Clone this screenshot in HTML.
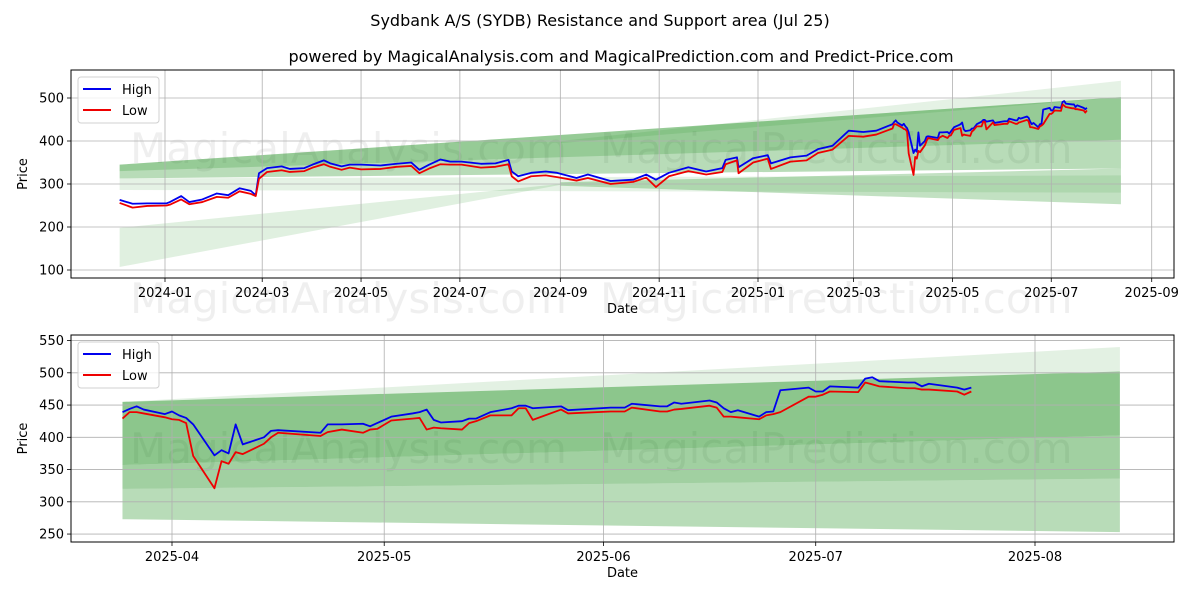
<!DOCTYPE html>
<html><head><meta charset="utf-8"><style>
body{margin:0;background:#fff;}
svg{display:block;font-family:"DejaVu Sans","Liberation Sans",sans-serif;}
</style></head><body>
<svg id="chart" width="1200" height="600" viewBox="0 0 1200 600" xmlns="http://www.w3.org/2000/svg">
<rect width="1200" height="600" fill="#fff"/>
<text x="600" y="26" text-anchor="middle" font-size="16">Sydbank A/S (SYDB) Resistance and Support area (Jul 25)</text>
<text x="621" y="62" text-anchor="middle" font-size="16">powered by MagicalAnalysis.com and MagicalPrediction.com and Predict-Price.com</text>
<g id="top"></g>
<g id="bot"></g>
</svg>
<script>
const dates=["2023-12-04","2023-12-12","2023-12-21","2024-01-02","2024-01-04","2024-01-11","2024-01-16","2024-01-24","2024-02-02","2024-02-09","2024-02-16","2024-02-23","2024-02-26","2024-02-28","2024-03-04","2024-03-13","2024-03-18","2024-03-27","2024-04-01","2024-04-08","2024-04-12","2024-04-19","2024-04-24","2024-05-01","2024-05-13","2024-05-23","2024-06-01","2024-06-06","2024-06-12","2024-06-19","2024-06-25","2024-07-02","2024-07-14","2024-07-23","2024-07-31","2024-08-02","2024-08-06","2024-08-14","2024-08-23","2024-08-30","2024-09-11","2024-09-18","2024-10-02","2024-10-16","2024-10-24","2024-10-30","2024-11-07","2024-11-19","2024-11-30","2024-12-10","2024-12-12","2024-12-19","2024-12-20","2024-12-29","2025-01-07","2025-01-09","2025-01-21","2025-01-31","2025-02-07","2025-02-16","2025-02-26","2025-03-07","2025-03-15",
"2025-03-25","2025-03-26","2025-03-27","2025-03-28","2025-03-31","2025-04-01","2025-04-02","2025-04-03","2025-04-04","2025-04-07","2025-04-08","2025-04-09","2025-04-10","2025-04-11","2025-04-14","2025-04-15","2025-04-16","2025-04-22","2025-04-23","2025-04-25","2025-04-28","2025-04-29","2025-04-30","2025-05-02","2025-05-05","2025-05-06","2025-05-07","2025-05-08","2025-05-09","2025-05-12","2025-05-13","2025-05-14","2025-05-16","2025-05-19","2025-05-20","2025-05-21","2025-05-22","2025-05-26","2025-05-27","2025-06-02","2025-06-04","2025-06-05","2025-06-09","2025-06-10","2025-06-11","2025-06-12","2025-06-16","2025-06-17","2025-06-18","2025-06-19","2025-06-20","2025-06-23","2025-06-24","2025-06-25","2025-06-26","2025-06-30","2025-07-01","2025-07-02","2025-07-03","2025-07-07","2025-07-08","2025-07-09","2025-07-10","2025-07-14","2025-07-15","2025-07-16","2025-07-17","2025-07-21","2025-07-22","2025-07-23"];
const highs=[263,254,255,255,258,272,258,264,278,274,290,284,274,325,337,341,335,337,345,355,348,341,345,345,343,347,350,333,345,357,352,352,347,348,356,329,318,326,329,326,314,322,307,310,322,310,326,339,329,337,356,362,339,360,367,348,362,366,381,389,424,421,424,
439,444,448,443,436,440,434,430,420,372,380,375,420,389,400,410,411,407,420,420,421,417,422,432,437,439,443,427,423,425,429,429,439,445,449,449,445,448,442,446,446,452,448,448,454,452,457,454,445,439,442,432,439,440,473,477,471,471,479,477,491,493,487,485,485,479,483,477,474,477];
const lows=[256,245,249,250,252,264,253,258,270,268,283,277,272,312,328,332,328,330,338,346,340,333,338,334,335,340,342,325,336,346,345,345,338,340,346,318,306,318,320,316,308,314,300,305,315,293,318,330,322,328,346,355,325,350,359,335,352,355,372,380,412,410,415,
429,439,439,437,431,428,427,422,371,321,363,359,377,374,390,400,407,402,408,412,407,412,413,426,429,430,412,415,414,412,422,425,434,434,445,445,427,443,437,440,440,446,440,440,443,444,449,446,432,432,431,428,434,436,439,463,463,466,471,470,485,482,479,476,476,474,474,471,466,471];

// band values: [startLow,startHigh,endLow,endHigh]
const topBandStart=["2023-12-04","2023-12-04","2023-12-04","2023-12-04","2024-09-01","2024-09-01"];
const topBandEnd=["2025-08-13","2025-08-13","2025-08-13","2024-09-01","2025-08-13","2025-08-13"];
const topBandVals=[[313,345,336,502],[330,345,403,502],[286,313,280,320],[107,198,298,300],[296,304,253,336],[395,400,502,540]];
const topBandAlpha=[0.28,0.18,0.1,0.12,0.24,0.1];
const botBandStart=["2025-03-25","2025-03-25","2025-03-25","2025-03-25"];
const botBandEnd=["2025-08-13","2025-08-13","2025-08-13","2025-08-13"];
const botBandVals=[[273,320,253,336],[320,357,336,403],[357,455,403,502],[455,455,502,540]];
const botBandAlpha=[0.28,0.37,0.45,0.11];

const topYTicks=[100,200,300,400,500];
const topXTicks=["2024-01","2024-03","2024-05","2024-07","2024-09","2024-11","2025-01","2025-03","2025-05","2025-07","2025-09"];
const botYTicks=[250,300,350,400,450,500,550];
const botXTicks=["2025-04","2025-05","2025-06","2025-07","2025-08"];

const NS="http://www.w3.org/2000/svg";
const day=s=>Date.parse(s.length===7?s+"-01":s)/86400000;
function mk(parent,tag,attrs){const e=document.createElementNS(NS,tag);for(const k in attrs)e.setAttribute(k,attrs[k]);parent.appendChild(e);return e;}

function panel(g,cfg){
  const {x0,x1,y0,y1,xRef,xRefPx,pxPerDay,yRef,yRefPx,pxPerUnit,yTicks,xTicks,bStart,bEnd,bVals,bAlpha,startDate,watermarkY}=cfg;
  const X=d=>xRefPx+(day(d)-day(xRef))*pxPerDay;
  const Y=v=>yRefPx-(v-yRef)*pxPerUnit;
  const clipId=g.id+"clip";
  const cp=mk(g,"clipPath",{id:clipId});mk(cp,"rect",{x:x0,y:y0,width:x1-x0,height:y1-y0});
  const wm=mk(g,"g",{"font-size":"42","fill":"#000","opacity":"0.06"});
  
  
  mk(wm,"text",{x:130,y:watermarkY}).textContent="MagicalAnalysis.com";
  mk(wm,"text",{x:600,y:watermarkY}).textContent="MagicalPrediction.com";
  const bands=mk(g,"g",{"clip-path":"url(#"+clipId+")"});
  bVals.forEach((v,i)=>{
    const xa=X(bStart[i]),xb=X(bEnd[i]);
    const p=mk(bands,"polygon",{points:`${xa},${Y(v[0])} ${xb},${Y(v[2])} ${xb},${Y(v[3])} ${xa},${Y(v[1])}`,fill:"green","fill-opacity":bAlpha[i]});
    
    
  });
  const grid=mk(g,"g",{stroke:"#b0b0b0","stroke-width":"0.8"});
  yTicks.forEach(v=>{
    const y=Y(v);
    mk(grid,"line",{x1:x0,x2:x1,y1:y,y2:y});
    mk(g,"line",{x1:x0-4,x2:x0,y1:y,y2:y,stroke:"#000","stroke-width":"0.8"});
    const t=mk(g,"text",{x:x0-7,y:y+4.5,"text-anchor":"end","font-size":"13"});t.textContent=v;
    
    
  });
  xTicks.forEach(d=>{
    const x=X(d);
    mk(grid,"line",{x1:x,x2:x,y1:y0,y2:y1});
    mk(g,"line",{x1:x,x2:x,y1:y1,y2:y1+4,stroke:"#000","stroke-width":"0.8"});
    const t=mk(g,"text",{x:x,y:y1+19,"text-anchor":"middle","font-size":"13"});t.textContent=d;
    
    
  });
  const idx=dates.map((d,i)=>i).filter(i=>day(dates[i])>=day(startDate));
  const lines=mk(g,"g",{"clip-path":"url(#"+clipId+")",fill:"none","stroke-width":"1.8","stroke-linejoin":"round"});
  const hl=mk(lines,"polyline",{points:idx.map(i=>X(dates[i])+","+Y(highs[i])).join(" "),stroke:"#0000ee"});
  
  
  const ll=mk(lines,"polyline",{points:idx.map(i=>X(dates[i])+","+Y(lows[i])).join(" "),stroke:"#ee0000"});
  
  
  const fr=mk(g,"rect",{x:x0,y:y0,width:x1-x0,height:y1-y0,fill:"none",stroke:"#000","stroke-width":"1"});
  
  
  const xl=mk(g,"text",{x:(x0+x1)/2,y:y1+35,"text-anchor":"middle","font-size":"13"});xl.textContent="Date";
  
  
  const yl=mk(g,"text",{x:27,y:(y0+y1)/2,"text-anchor":"middle","font-size":"13",transform:`rotate(-90 27 ${(y0+y1)/2})`});yl.textContent="Price";
  
  
  const lg=mk(g,"g",{});
  
  
  mk(lg,"rect",{x:78,y:y0+7,width:81,height:46,rx:3,fill:"#fff","fill-opacity":"0.8",stroke:"#d0d0d0"});
  mk(lg,"line",{x1:83,x2:111,y1:y0+19,y2:y0+19,stroke:"#0000ee","stroke-width":"2"});
  const t1=mk(lg,"text",{x:122,y:y0+24,"font-size":"13"});t1.textContent="High";
  
  
  mk(lg,"line",{x1:83,x2:111,y1:y0+40,y2:y0+40,stroke:"#ee0000","stroke-width":"2"});
  const t2=mk(lg,"text",{x:122,y:y0+45,"font-size":"13"});t2.textContent="Low";
  
  
  const wm2=mk(g,"g",{"font-size":"42","fill":"#000","opacity":"0.06"});
  mk(wm2,"text",{x:130,y:watermarkY+150}).textContent=g.id==="top"?"MagicalAnalysis.com":"";
  mk(wm2,"text",{x:600,y:watermarkY+150}).textContent=g.id==="top"?"MagicalPrediction.com":"";
}
panel(document.getElementById("top"),{x0:71,x1:1174,y0:70,y1:278,xRef:"2024-01-01",xRefPx:165,pxPerDay:593/366,yRef:300,yRefPx:184,pxPerUnit:0.43,yTicks:topYTicks,xTicks:topXTicks,bStart:topBandStart,bEnd:topBandEnd,bVals:topBandVals,bAlpha:topBandAlpha,startDate:"2023-01-01",watermarkY:163});
panel(document.getElementById("bot"),{x0:71,x1:1174,y0:335,y1:542,xRef:"2025-04-01",xRefPx:172,pxPerDay:863/122,yRef:400,yRefPx:437.3,pxPerUnit:0.645,yTicks:botYTicks,xTicks:botXTicks,bStart:botBandStart,bEnd:botBandEnd,bVals:botBandVals,bAlpha:botBandAlpha,startDate:"2025-03-25",watermarkY:463});
</script>
</body></html>
